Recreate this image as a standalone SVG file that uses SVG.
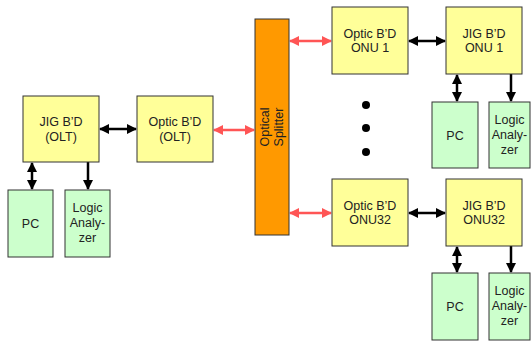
<svg xmlns="http://www.w3.org/2000/svg" width="532" height="342" viewBox="0 0 532 342">
<style>
.y{fill:#FFFF99;stroke:#333;stroke-width:1}
.g{fill:#CCFFCC;stroke:#333;stroke-width:1}
.o{fill:#FF9900;stroke:#333;stroke-width:1}
text{font-family:"Liberation Sans",Arial,sans-serif;font-size:12.5px;fill:#222;text-anchor:middle}
.k{stroke:#000;stroke-width:2.5;fill:none}
.r{stroke:#FF5555;stroke-width:2.5;fill:none}
</style>
<defs>
<marker id="ak" viewBox="0 0 10 10" refX="9" refY="5" markerWidth="4" markerHeight="4" orient="auto-start-reverse" markerUnits="strokeWidth"><path d="M0,0L10,5L0,10z" fill="#000"/></marker>
<marker id="ar" viewBox="0 0 10 10" refX="9" refY="5" markerWidth="4" markerHeight="4" orient="auto-start-reverse" markerUnits="strokeWidth"><path d="M0,0L10,5L0,10z" fill="#FF5555"/></marker>
</defs>
<rect width="532" height="342" fill="#fff"/>
<g id="connectors">
<line class="k" x1="100" y1="129" x2="136" y2="129" marker-start="url(#ak)" marker-end="url(#ak)"/>
<line class="r" x1="214" y1="130" x2="254" y2="130" marker-start="url(#ar)" marker-end="url(#ar)"/>
<line class="k" x1="32" y1="163" x2="32" y2="189" marker-start="url(#ak)" marker-end="url(#ak)"/>
<line class="k" x1="88" y1="162" x2="88" y2="189" marker-end="url(#ak)"/>
<line class="r" x1="290" y1="41" x2="331" y2="41" marker-start="url(#ar)" marker-end="url(#ar)"/>
<line class="k" x1="409" y1="41" x2="445" y2="41" marker-start="url(#ak)" marker-end="url(#ak)"/>
<line class="k" x1="457" y1="75" x2="457" y2="101" marker-start="url(#ak)" marker-end="url(#ak)"/>
<line class="k" x1="511" y1="74" x2="511" y2="101" marker-end="url(#ak)"/>
<line class="r" x1="290" y1="213" x2="331" y2="213" marker-start="url(#ar)" marker-end="url(#ar)"/>
<line class="k" x1="409" y1="213" x2="445" y2="213" marker-start="url(#ak)" marker-end="url(#ak)"/>
<line class="k" x1="457" y1="247" x2="457" y2="272" marker-start="url(#ak)" marker-end="url(#ak)"/>
<line class="k" x1="511" y1="246" x2="511" y2="272" marker-end="url(#ak)"/>
</g>
<g id="jig-olt"><rect class="y" x="23" y="96" width="76" height="66"/><text x="61" y="126">JIG B’D</text><text x="61" y="141">(OLT)</text></g>
<g id="optic-olt"><rect class="y" x="137" y="96" width="76" height="66"/><text x="175" y="126">Optic B’D</text><text x="175" y="141">(OLT)</text></g>
<g id="pc-olt"><rect class="g" x="8" y="190" width="45" height="67"/><text x="30.5" y="228">PC</text></g>
<g id="la-olt"><rect class="g" x="65" y="190" width="45" height="67"/><text x="87.5" y="212">Logic</text><text x="87.5" y="227">Analy-</text><text x="87.5" y="242">zer</text></g>
<g id="splitter"><rect class="o" x="255" y="19" width="34" height="216"/><text transform="translate(272,127) rotate(-90)"><tspan x="0" y="-3">Optical</tspan><tspan x="0" y="11">Splitter</tspan></text></g>
<g id="optic-onu1"><rect class="y" x="332" y="7" width="76" height="67"/><text x="370" y="38">Optic B’D</text><text x="370" y="52">ONU 1</text></g>
<g id="jig-onu1"><rect class="y" x="446" y="7" width="76" height="67"/><text x="484" y="38">JIG B’D</text><text x="484" y="52">ONU 1</text></g>
<g id="pc-onu1"><rect class="g" x="432" y="102" width="46" height="66"/><text x="455" y="140">PC</text></g>
<g id="la-onu1"><rect class="g" x="489" y="102" width="41" height="66"/><text x="509.5" y="124">Logic</text><text x="509.5" y="139">Analy-</text><text x="509.5" y="154">zer</text></g>
<g id="dots"><circle cx="366" cy="105" r="4"/><circle cx="366" cy="128" r="4"/><circle cx="366" cy="152" r="4"/></g>
<g id="optic-onu32"><rect class="y" x="332" y="179" width="76" height="67"/><text x="370" y="210">Optic B’D</text><text x="370" y="224">ONU32</text></g>
<g id="jig-onu32"><rect class="y" x="446" y="179" width="76" height="67"/><text x="484" y="210">JIG B’D</text><text x="484" y="224">ONU32</text></g>
<g id="pc-onu32"><rect class="g" x="432" y="273" width="46" height="67"/><text x="455" y="311">PC</text></g>
<g id="la-onu32"><rect class="g" x="489" y="273" width="41" height="67"/><text x="509.5" y="295">Logic</text><text x="509.5" y="310">Analy-</text><text x="509.5" y="325">zer</text></g>
</svg>
